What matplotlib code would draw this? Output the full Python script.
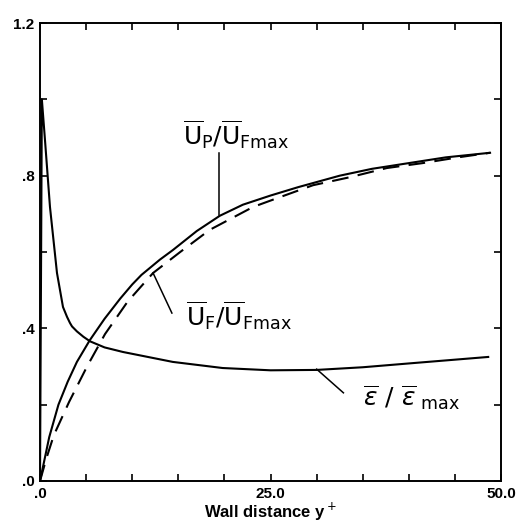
import matplotlib
matplotlib.use("Agg")
import matplotlib.pyplot as plt
from matplotlib.ticker import MultipleLocator

# particle / fluid velocity ratios and dissipation ratio vs wall distance
up_x = [0, 1, 2, 3, 4, 5.4, 7, 8.7, 10, 11, 13, 14.4, 17, 19.5, 22, 25, 28, 32.5, 36, 40, 44, 48.8]
up_y = [0, 0.115, 0.2, 0.26, 0.312, 0.369, 0.425, 0.478, 0.515, 0.54, 0.58, 0.605, 0.655, 0.695, 0.724, 0.748, 0.77, 0.8, 0.818, 0.833, 0.848, 0.86]

uf_x = [0, 0.7, 1.5, 3.15, 5.1, 7.05, 9.5, 12.26, 15.2, 18.4, 23.1, 25.7, 29.6, 33.6, 37.6, 41.5, 45.6, 48.8]
uf_y = [0, 0.06, 0.12, 0.207, 0.30, 0.385, 0.47, 0.545, 0.6, 0.658, 0.718, 0.741, 0.775, 0.796, 0.82, 0.833, 0.849, 0.86]

eps_x = [0, 0.2, 0.54, 1.08, 1.84, 2.49, 2.93, 3.25, 3.47, 4.0, 4.7, 5.42, 7, 9, 14.4, 19.8, 25, 30, 35, 40.5, 48.6]
eps_y = [0, 1.0, 0.893, 0.718, 0.545, 0.456, 0.43, 0.414, 0.405, 0.392, 0.378, 0.366, 0.35, 0.338, 0.312, 0.296, 0.29, 0.291, 0.298, 0.309, 0.325]

xticks = [0, 25, 50]
xtick_labels = [".0", "25.0", "50.0"]
yticks = [0, 0.4, 0.8, 1.2]
ytick_labels = [".0", ".4", ".8", "1.2"]

plt.rcParams["font.family"] = ["Liberation Sans", "DejaVu Sans"]
plt.rcParams["mathtext.fontset"] = "dejavusans"

fig = plt.figure(figsize=(5.3, 5.26), dpi=100)
ax = fig.add_axes([0.0755, 0.0856, 0.87, 0.8706])

ax.plot(up_x, up_y, color="black", lw=1.5)
ax.plot(uf_x, uf_y, color="black", lw=1.5, dashes=(8, 4.5))
ax.plot(eps_x, eps_y, color="black", lw=1.5)

# leader lines and curve labels
ax.plot([19.4, 19.4], [0.859, 0.697], color="black", lw=1.1)
ax.text(21.3, 0.906, r"$\overline{\mathrm{U}}_{\mathrm{P}}/\overline{\mathrm{U}}_{\mathrm{Fmax}}$",
        fontsize=18, ha="center", va="center", family="DejaVu Sans")

ax.plot([12.26, 14.3], [0.545, 0.44], color="black", lw=1.1)
ax.text(21.6, 0.432, r"$\overline{\mathrm{U}}_{\mathrm{F}}/\overline{\mathrm{U}}_{\mathrm{Fmax}}$",
        fontsize=18, ha="center", va="center", family="DejaVu Sans")

ax.plot([30.0, 32.9], [0.293, 0.231], color="black", lw=1.1)
ax.text(40.3, 0.217, r"$\overline{\epsilon}\ /\ \overline{\epsilon}_{\ \mathrm{max}}$",
        fontsize=18, ha="center", va="center", family="DejaVu Sans")

ax.set_xlim(0, 50)
ax.set_ylim(0, 1.2)
ax.set_xticks(xticks)
ax.set_xticklabels(xtick_labels, fontweight="bold", fontsize=11)
ax.set_yticks(yticks)
ax.set_yticklabels(ytick_labels, fontweight="bold", fontsize=11)
ax.xaxis.set_minor_locator(MultipleLocator(5))
ax.yaxis.set_minor_locator(MultipleLocator(0.2))
ax.tick_params(which="both", direction="in", top=True, right=True, width=1.2)
ax.tick_params(which="major", length=5, pad=4)
ax.tick_params(which="minor", length=5)
for s in ax.spines.values():
    s.set_linewidth(1.4)

ax.set_xlabel(r"Wall distance y$^+$", fontsize=12, fontweight="bold", labelpad=0)

fig.savefig("out.png", dpi=100)
